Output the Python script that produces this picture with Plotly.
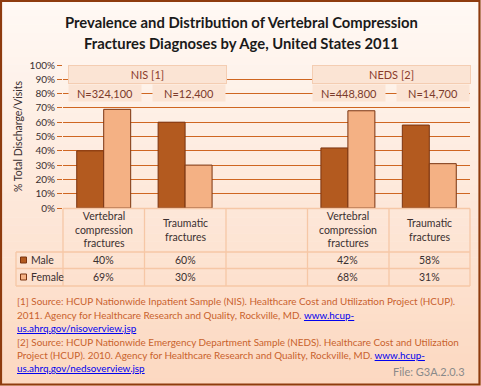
import plotly.graph_objects as go

# ---------------- data ----------------
categories = ["Vertebral<br>compression<br>fractures", "Traumatic<br>fractures", "",
              "Vertebral<br>compression<br>fractures", "Traumatic<br>fractures"]
bar_positions = [0, 1, 3, 4]
male_values = [40, 60, 42, 58]
female_values = [69, 30, 68, 31]
series_names = ["Male", "Female"]
groups = ["NIS [1]", "NEDS [2]"]
group_centers = [0.54, 3.54]
n_labels = ["N=324,100", "N=12,400", "N=448,800", "N=14,700"]
n_centers = [0.02, 1.05, 3.01, 4.05]
y_ticks = [0, 10, 20, 30, 40, 50, 60, 70, 80, 90, 100]
y_tick_text = ["0%", "10%", "20%", "30%", "40%", "50%", "60%", "70%", "80%", "90%", "100%"]
title_lines = ["Prevalence and Distribution of Vertebral Compression",
               "Fractures Diagnoses by Age, United States 2011"]
y_title = "% Total Discharge/Visits"
file_label = "File: G3A.2.0.3"

W, H = 481, 386
L, R, T, B = 63, 470, 65, 208  # plot area in pixels


def px(x):
    return (x - L) / (R - L)


def py(y):
    return (B - y) / (B - T)


MALE = "#b35a1f"
FEMALE = "#f4b184"
EDGE = "#7b3410"
GRID = "#cf6621"
TBL = "#f6c7a6"
TXT = "#3b3030"
FONT = "Lato, Open Sans, sans-serif"

fig = go.Figure()
fig.add_bar(x=bar_positions, y=male_values, name=series_names[0],
            marker=dict(color=MALE, line=dict(color=EDGE, width=1)))
fig.add_bar(x=bar_positions, y=female_values, name=series_names[1],
            marker=dict(color=FEMALE, line=dict(color=EDGE, width=1)))

shapes = []
# gradient background
def lerp(c1, c2, t):
    return "rgb(%d,%d,%d)" % tuple(round(a + (b - a) * t) for a, b in zip(c1, c2))

top_c = (255, 249, 245)
bot_c = (252, 216, 192)
n = 48
for i in range(n):
    y0 = H * i / n
    y1 = H * (i + 1) / n + 0.5
    shapes.append(dict(type="rect", xref="paper", yref="paper", layer="below",
                       x0=px(0), x1=px(W), y0=py(y1), y1=py(y0),
                       fillcolor=lerp(top_c, bot_c, (i + 0.5) / n), line=dict(width=0)))

# table lines
def hline(x0, x1, y, c=TBL, w=1.3):
    shapes.append(dict(type="line", xref="paper", yref="paper", x0=px(x0), x1=px(x1),
                       y0=py(y), y1=py(y), line=dict(color=c, width=w)))


def vline(x, y0, y1, c=TBL, w=1.3):
    shapes.append(dict(type="line", xref="paper", yref="paper", x0=px(x), x1=px(x),
                       y0=py(y0), y1=py(y1), line=dict(color=c, width=w)))


hline(63, 470, 208.5)
hline(16, 470, 252)
hline(16, 470, 268.5)
hline(16, 470, 286)
vline(16, 252, 286)
for xv in [63, 144.5, 226, 307.5, 389, 470]:
    vline(xv, 208.5, 286)

# legend swatches
for yy, col in [(260, MALE), (277, FEMALE)]:
    shapes.append(dict(type="rect", xref="paper", yref="paper",
                       x0=px(20.5), x1=px(26.5), y0=py(yy + 3), y1=py(yy - 3),
                       fillcolor=col, line=dict(color=EDGE, width=1)))

# outer border
shapes.append(dict(type="rect", xref="paper", yref="paper", x0=px(1), x1=px(W - 1.5),
                   y0=py(H - 1.5), y1=py(1), line=dict(color="#8e3b0e", width=2.2),
                   fillcolor="rgba(0,0,0,0)"))

ann = []


def A(**kw):
    kw.setdefault("showarrow", False)
    kw.setdefault("xanchor", "center")
    kw.setdefault("yanchor", "middle")
    ann.append(kw)


# title
for i, t in enumerate(title_lines):
    A(text="<b>%s</b>" % t, xref="paper", yref="paper", x=px(241), y=py(22 + 21 * i),
      font=dict(family=FONT, size=14.8, color="#1a1a1a"))

# y title
A(text=y_title, xref="paper", yref="paper", x=px(18), y=py(136), textangle=-90,
  font=dict(family=FONT, size=10.5, color=TXT))

# group boxes
for g, c in zip(groups, group_centers):
    A(text=g, xref="x", yref="paper", x=c, y=py(74.5), width=155, height=15,
      bgcolor="#fbe4d4", bordercolor="#f4cdb2", borderwidth=1, borderpad=1,
      font=dict(family=FONT, size=11, color="#8a3b2b"))
for t, c in zip(n_labels, n_centers):
    A(text=t, xref="x", yref="paper", x=c, y=py(93), width=72, height=16,
      bgcolor="#fbe4d4", borderpad=0, font=dict(family=FONT, size=11, color="#7b3b2b"))

# table header labels
for i, c in enumerate(categories):
    if c:
        A(text=c, xref="x", yref="paper", x=i, y=py(229.5),
          font=dict(family=FONT, size=10.5, color=TXT))

# table values
for yy, name, vals in [(260, series_names[0], male_values), (277, series_names[1], female_values)]:
    A(text=name, xref="paper", yref="paper", x=px(29), y=py(yy), xanchor="left",
      font=dict(family=FONT, size=10.5, color=TXT))
    for xpos, v in zip(bar_positions, vals):
        A(text="%d%%" % v, xref="x", yref="paper", x=xpos, y=py(yy),
          font=dict(family=FONT, size=10.5, color=TXT))

# footnotes
LINK = "<span style='color:#0000ee'><u>%s</u></span>"
foot = [
    "[1] Source: HCUP Nationwide Inpatient Sample (NIS). Healthcare Cost and Utilization Project (HCUP).",
    "2011. Agency for Healthcare Research and Quality, Rockville, MD. " + LINK % "www.hcup-",
    LINK % "us.ahrq.gov/nisoverview.jsp",
    "[2] Source: HCUP Nationwide Emergency Department Sample (NEDS). Healthcare Cost and Utilization",
    "Project (HCUP). 2010. Agency for Healthcare Research and Quality, Rockville, MD. " + LINK % "www.hcup-",
    LINK % "us.ahrq.gov/nedsoverview.jsp",
]
foot_y = [301, 315, 328, 341.5, 355, 368]
for t, yy in zip(foot, foot_y):
    A(text=t, xref="paper", yref="paper", x=px(15), y=py(yy), xanchor="left",
      font=dict(family=FONT, size=9.9, color="#c9622c"))
A(text=file_label, xref="paper", yref="paper", x=px(467), y=py(371), xanchor="right",
  font=dict(family=FONT, size=11, color="#8a8a8a"))

fig.update_layout(
    width=W, height=H, autosize=False,
    margin=dict(l=L, r=W - R, t=T, b=H - B, pad=0),
    paper_bgcolor="rgba(0,0,0,0)", plot_bgcolor="rgba(0,0,0,0)",
    barmode="group", bargap=0.337, bargroupgap=0,
    showlegend=False,
    shapes=shapes, annotations=ann,
    font=dict(family=FONT, color=TXT),
    xaxis=dict(range=[-0.5, 4.5], showticklabels=False, showgrid=False, zeroline=False,
               ticks="", fixedrange=True),
    yaxis=dict(range=[0, 100], tickmode="array", tickvals=y_ticks, ticktext=y_tick_text,
               showgrid=True, gridcolor=GRID, gridwidth=1.3, zeroline=True, zerolinecolor=TBL,
               zerolinewidth=1.3, ticks="outside", ticklen=5, tickcolor=GRID,
               tickfont=dict(family=FONT, size=10, color=TXT), fixedrange=True,
               automargin=False),
)

fig.write_html("out.html", config={"displayModeBar": False},
               post_script="document.body.style.margin='0';document.body.style.padding='0';")
